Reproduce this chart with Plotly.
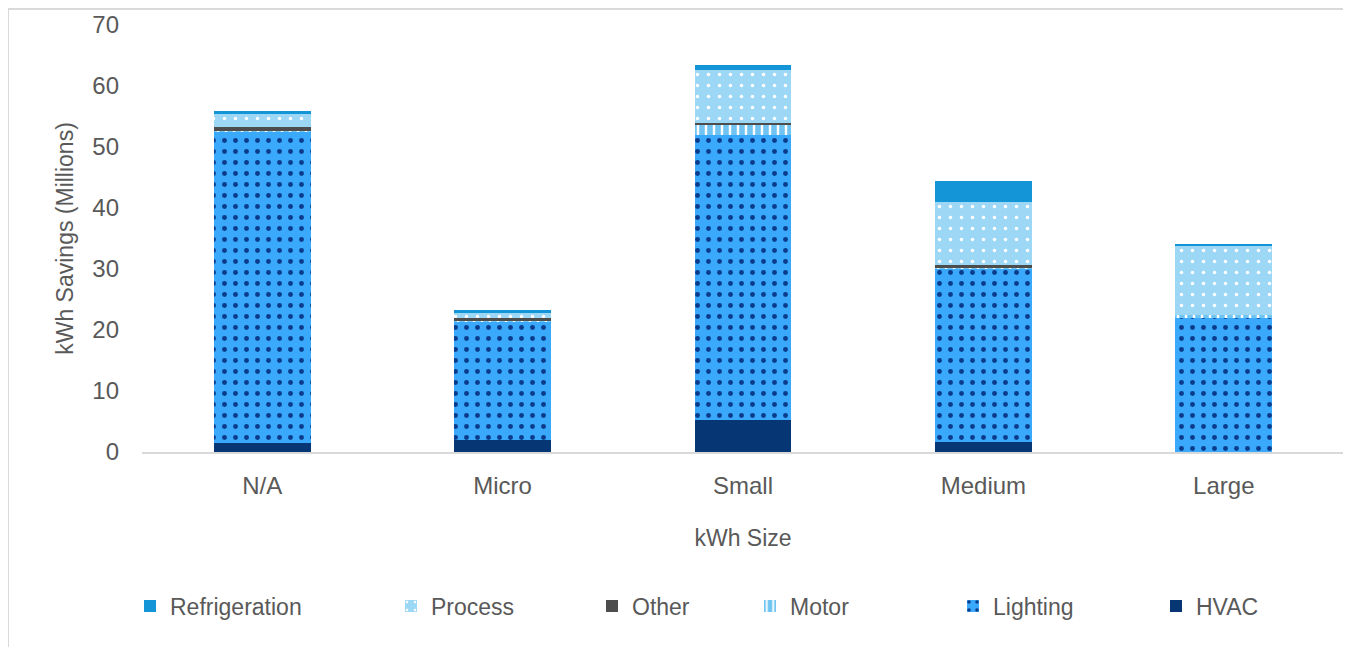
import plotly.graph_objects as go

categories = ["N/A", "Micro", "Small", "Medium", "Large"]

hvac = [1.5, 1.9, 5.3, 1.6, 0.0]
lighting = [51.0, 19.5, 46.7, 28.4, 21.9]
motor = [0.2, 0.1, 1.7, 0.2, 0.6]
other = [0.5, 0.4, 0.3, 0.4, 0.0]
process = [2.2, 0.9, 8.7, 10.4, 11.2]
refrigeration = [0.5, 0.4, 0.8, 3.4, 0.4]

y_ticks = [0, 10, 20, 30, 40, 50, 60, 70]

TEXT = "#595959"
FONT = "Liberation Sans"

# the page body adds an 8px margin, so the figure is sized to the window minus that
OFF = 8
W, H = 1351 - OFF, 647 - OFF
L, R, T, B = 142 - OFF, 7, 25 - OFF, 195
PW = W - L - R
PH = H - T - B

series = [
    # name, values, colour, pattern
    ("HVAC", hvac, "#073674", None),
    ("Lighting", lighting, "#3AA9FB", dict(shape=".", fgcolor="#0B3C8C", size=11, solidity=0.16)),
    ("Motor", motor, "#6FC4F2", dict(shape="|", fgcolor="white", size=8, solidity=0.3)),
    ("Other", other, "#4D4D4D", None),
    ("Process", process, "#9CD8F6", dict(shape=".", fgcolor="white", size=11, solidity=0.08)),
    ("Refrigeration", refrigeration, "#1495D8", None),
]

# where each legend label starts (px in the window), Excel spreads them unevenly
legend_text_px = {
    "Refrigeration": 170,
    "Process": 431,
    "Other": 632,
    "Motor": 790,
    "Lighting": 993,
    "HVAC": 1196,
}

fig = go.Figure()
layout_legends = {}
for i, (name, vals, color, pattern) in enumerate(series):
    key = "legend" if i == 0 else f"legend{i + 1}"
    marker = dict(color=color, line=dict(width=0))
    if pattern:
        marker["pattern"] = dict(fillmode="replace", bgcolor=color, **pattern)
    fig.add_trace(
        go.Bar(
            x=categories,
            y=vals,
            name=name,
            marker=marker,
            legend=key,
        )
    )
    layout_legends[key] = dict(
        xref="container",
        yref="container",
        x=(legend_text_px[name] - OFF - 40) / W,
        xanchor="left",
        y=1 - (606 - OFF) / H,
        yanchor="middle",
        orientation="h",
        font=dict(family=FONT, size=23, color=TEXT),
        bgcolor="rgba(0,0,0,0)",
    )

fig.update_layout(
    width=W,
    height=H,
    barmode="stack",
    bargap=0.597,
    plot_bgcolor="white",
    paper_bgcolor="white",
    margin=dict(l=L, r=R, t=T, b=B, pad=0, autoexpand=False),
    font=dict(family=FONT, color=TEXT),
    showlegend=True,
    **layout_legends,
    xaxis=dict(
        title=dict(text="kWh Size", font=dict(size=23, color=TEXT), standoff=32),
        tickfont=dict(size=24, color=TEXT),
        showline=True,
        linecolor="#D9D9D9",
        linewidth=2,
        ticks="",
        ticklabelstandoff=11,
        automargin=False,
    ),
    yaxis=dict(
        title=dict(text="kWh Savings (Millions)", font=dict(size=23, color=TEXT), standoff=12),
        tickfont=dict(size=24, color=TEXT),
        range=[0, 70],
        tickvals=y_ticks,
        showgrid=False,
        zeroline=False,
        ticks="",
        ticklabelstandoff=22,
        automargin=False,
    ),
    # light grey frame round the chart, as in the Excel export
    shapes=[
        dict(
            type="rect",
            xref="paper",
            yref="paper",
            x0=(0 - L) / PW,
            x1=(1344 - OFF - L) / PW,
            y0=(H - B - 660) / PH,
            y1=(H - B - 1) / PH,
            line=dict(color="#D9D9D9", width=2),
            layer="below",
        )
    ],
)

fig.write_html("out.html")
